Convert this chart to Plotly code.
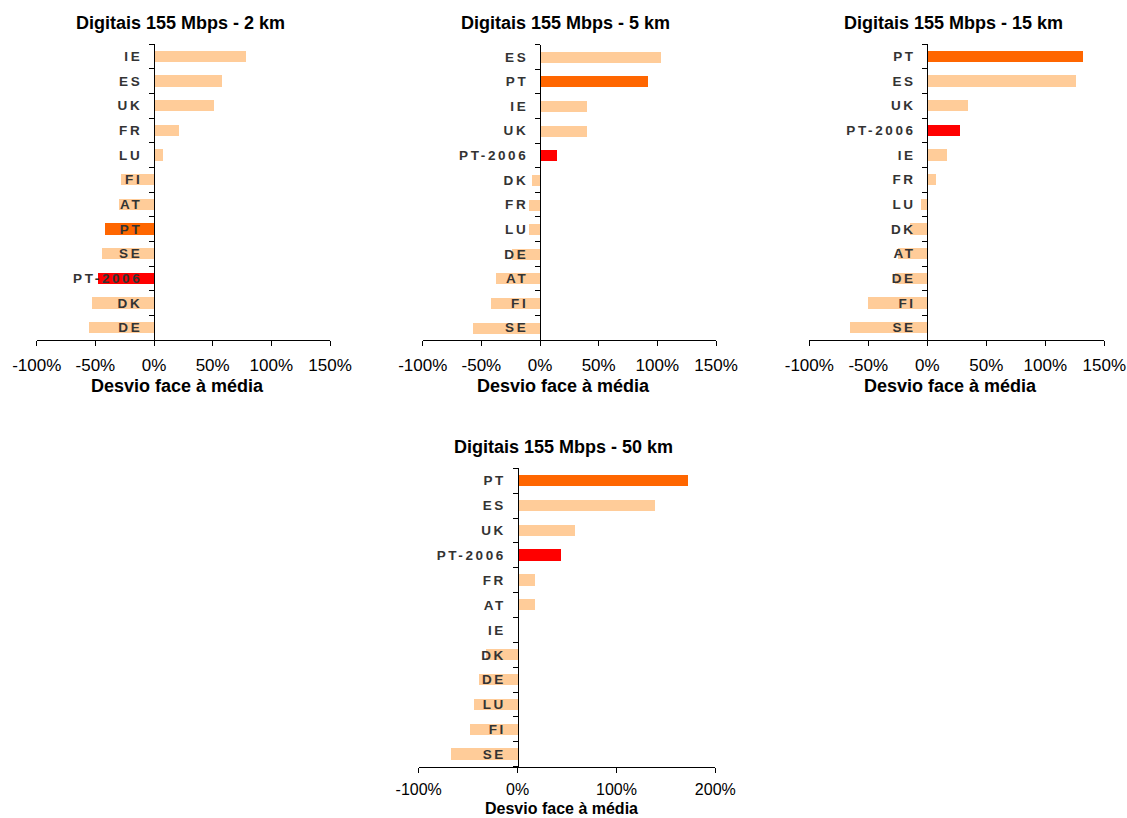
import plotly.graph_objects as go

# Deviation from the average price (%) for 155 Mbps digital leased lines,
# one panel per circuit length; categories listed top to bottom.
cats_2km = ["IE", "ES", "UK", "FR", "LU", "FI", "AT", "PT", "SE", "PT-2006", "DK", "DE"]
vals_2km = [78, 58, 51, 21, 7, -28, -30, -42, -45, -48, -53, -56]

cats_5km = ["ES", "PT", "IE", "UK", "PT-2006", "DK", "FR", "LU", "DE", "AT", "FI", "SE"]
vals_5km = [103, 92, 40, 40, 14, -7, -10, -10, -24, -38, -42, -57]

cats_15km = ["PT", "ES", "UK", "PT-2006", "IE", "FR", "LU", "DK", "AT", "DE", "FI", "SE"]
vals_15km = [132, 126, 35, 28, 17, 8, -5, -14, -25, -27, -50, -65]

cats_50km = ["PT", "ES", "UK", "PT-2006", "FR", "AT", "IE", "DK", "DE", "LU", "FI", "SE"]
vals_50km = [172, 139, 58, 44, 17, 17, 0, -32, -39, -44, -48, -68]

titles = [
    "Digitais 155 Mbps - 2 km",
    "Digitais 155 Mbps - 5 km",
    "Digitais 155 Mbps - 15 km",
    "Digitais 155 Mbps - 50 km",
]

# x-axis ticks (percent) and their labels for each panel
ticks_150 = [-100, -50, 0, 50, 100, 150]
labels_150 = ["-100%", "-50%", "0%", "50%", "100%", "150%"]
ticks_200 = [-100, 0, 100, 200]
labels_200 = ["-100%", "0%", "100%", "200%"]

x_ticks = [ticks_150, ticks_150, ticks_150, ticks_200]
x_labels = [labels_150, labels_150, labels_150, labels_200]
axis_title = "Desvio face à média"

W, H = 1127, 818
FONT = "Liberation Sans, Arial, sans-serif"
PEACH, ORANGE, RED = "#FFCC99", "#FF6600", "#FF0000"

# plot-area boxes in pixels: (left, right, top, bottom)
boxes = [
    (36.7, 330.0, 44.0, 340.0),
    (422.7, 716.0, 44.5, 340.0),
    (809.3, 1104.3, 44.0, 340.0),
    (418.7, 715.3, 468.3, 766.7),
]
title_centers = [(180, 23), (565, 23), (953, 23), (563, 447)]
# axis-title anchors: (x centre, y position, vertical anchor, font size)
axis_title_pos = [(177, 386, "middle", 18), (563, 386, "middle", 18),
                  (950, 386, "middle", 18), (561, 818, "bottom", 16)]
# x tick label font size and distance from the ticks
x_tick_style = [(17, 5), (17, 5), (17, 5), (16, 3)]

panels = [
    (cats_2km, vals_2km),
    (cats_5km, vals_5km),
    (cats_15km, vals_15km),
    (cats_50km, vals_50km),
]


def bar_color(c):
    if c == "PT":
        return ORANGE
    if c == "PT-2006":
        return RED
    return PEACH


def spaced(c):
    return '<span style="letter-spacing:2.6px">' + c + "</span>"


def paper_text(text, px, py, size, yanchor="middle"):
    return dict(
        text=text,
        x=px / W,
        y=1 - py / H,
        xref="paper",
        yref="paper",
        xanchor="center",
        yanchor=yanchor,
        showarrow=False,
        borderpad=0,
        font=dict(family=FONT, size=size, color="black", weight="bold"),
    )


fig = go.Figure()
layout = dict(
    width=W,
    height=H,
    margin=dict(l=0, r=0, t=0, b=0, autoexpand=False),
    paper_bgcolor="white",
    plot_bgcolor="white",
    showlegend=False,
    font=dict(family=FONT, color="black"),
    bargap=0,
    annotations=[],
)

for i, ((cats, vals), (l, r, t, b), tv, tt) in enumerate(
    zip(panels, boxes, x_ticks, x_labels), start=1
):
    xa, ya = f"x{i}", f"y{i}"
    lo, hi = tv[0], tv[-1]
    fig.add_trace(
        go.Bar(
            x=vals,
            y=cats,
            orientation="h",
            width=0.45,
            marker=dict(color=[bar_color(c) for c in cats], line=dict(width=0)),
            xaxis=xa,
            yaxis=ya,
            hoverinfo="x+y",
        )
    )
    xdom = [l / W, r / W]
    ydom = [1 - b / H, 1 - t / H]
    zero_frac = (0 - lo) / (hi - lo)
    tfs, tso = x_tick_style[i - 1]
    layout[f"xaxis{i}"] = dict(
        domain=xdom,
        anchor=ya,
        range=[lo, hi],
        tickmode="array",
        tickvals=tv,
        ticktext=tt,
        ticks="outside",
        ticklen=5,
        tickcolor="black",
        showline=True,
        linecolor="black",
        linewidth=1,
        showgrid=False,
        zeroline=False,
        automargin=False,
        tickfont=dict(family=FONT, size=tfs, color="black"),
        ticklabelstandoff=tso,
        fixedrange=True,
    )
    layout[f"yaxis{i}"] = dict(
        domain=ydom,
        anchor="free",
        position=xdom[0] + zero_frac * (xdom[1] - xdom[0]),
        type="category",
        categoryorder="array",
        categoryarray=cats,
        range=[len(cats) - 0.5, -0.5],
        tickmode="array",
        tickvals=cats,
        ticktext=[spaced(c) for c in cats],
        tickson="boundaries",
        ticks="outside",
        ticklen=5,
        tickcolor="black",
        showline=True,
        linecolor="black",
        linewidth=1,
        showgrid=False,
        zeroline=False,
        automargin=False,
        tickfont=dict(family=FONT, size=13.5, color="#333333", weight="bold"),
        ticklabelstandoff=9,
        fixedrange=True,
    )
    cx, cy = title_centers[i - 1]
    layout["annotations"].append(paper_text(titles[i - 1], cx, cy, 18))
    ax, ay, anc, afs = axis_title_pos[i - 1]
    layout["annotations"].append(paper_text(axis_title, ax, ay, afs, anc))

fig.update_layout(**layout)
fig.write_html("out.html")
